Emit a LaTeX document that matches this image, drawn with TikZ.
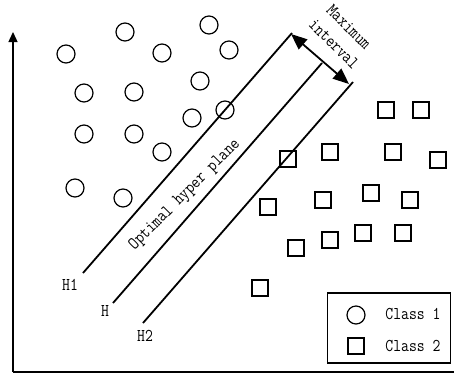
\documentclass[tikz,border=0pt]{standalone}
\usepackage{fontspec}
\setmonofont[FakeStretch=0.85]{Latin Modern Mono}
\usetikzlibrary{arrows.meta}
\begin{document}
\begin{tikzpicture}[x=1pt,y=-1pt,
  classA/.style={circle,draw,line width=1.2pt,minimum size=18pt,inner sep=0pt},
  classB/.style={rectangle,draw,line width=1.2pt,minimum size=16pt,inner sep=0pt},
  plane/.style={line width=1.8pt},
  lbl/.style={font=\ttfamily\fontsize{18}{18}\selectfont,inner sep=0pt},
  axis/.style={line width=1.3pt}]
\useasboundingbox (0,0) rectangle (454,378);

% axes
\coordinate (o) at (13,372);
\coordinate (ytop) at (13,32);
\coordinate (xend) at (454,372);
\draw[axis,-{Triangle[length=10pt,width=9pt]}] (o) -- (ytop);
\draw[axis] (o) -- (xend);

% class 1 samples
\foreach \n/\x/\y in {c1/125/32,c2/209/25,c3/66/54,c4/162/53,c5/229/50,
  c6/84/93,c7/134/92,c8/200/81,c9/84/134,c10/134/134,c11/192/118,
  c12/225/110,c13/162/152,c14/75/188,c15/123/198}
  \node[classA] (\n) at (\x,\y) {};

% class 2 samples
\foreach \n/\x/\y in {s1/386/110,s2/421/110,s3/330/152,s4/393/152,s5/438/160,
  s6/288/159,s7/268/207,s8/323/200,s9/371/193,s10/410/200,s11/296/248,
  s12/330/240,s13/363/233,s14/403/233,s15/260/288}
  \node[classB] (\n) at (\x,\y) {};

% separating planes
\coordinate (h1a) at (83,273);  \coordinate (h1b) at (292,33);
\coordinate (ha)  at (113,303); \coordinate (hb)  at (322,63);
\coordinate (h2a) at (143,323); \coordinate (h2b) at (353,82);
\draw[plane] (h1a) -- (h1b);
\draw[plane] (ha) -- (hb);
\draw[plane] (h2a) -- (h2b);

% margin arrow
\coordinate (m1) at (291,34);
\coordinate (m2) at (349,84);
\draw[line width=1.8pt,{Triangle[length=16pt,width=13pt]}-{Triangle[length=16pt,width=13pt]}] (m1) -- (m2);

% labels
\node[lbl,rotate=-45] (tmax) at (349,27) {Maximum};
\node[lbl,rotate=-45] (tint) at (334,44) {interval};
\node[lbl,rotate=45] (topt) at (185,195) {Optimal hyper plane};
\node[lbl] (th1) at (70,285) {H1};
\node[lbl] (th) at (105,311) {H};
\node[lbl] (th2) at (145,336) {H2};

% legend
\node[draw,line width=1.2pt,minimum width=123pt,minimum height=70pt,inner sep=0pt] (leg) at (389,328) {};
\node[classA] (lc) at (356,315) {};
\node[classB] (ls) at (356,346) {};
\node[lbl] (lt1) at (413,314) {Class 1};
\node[lbl] (lt2) at (413,346) {Class 2};
\end{tikzpicture}
\end{document}
